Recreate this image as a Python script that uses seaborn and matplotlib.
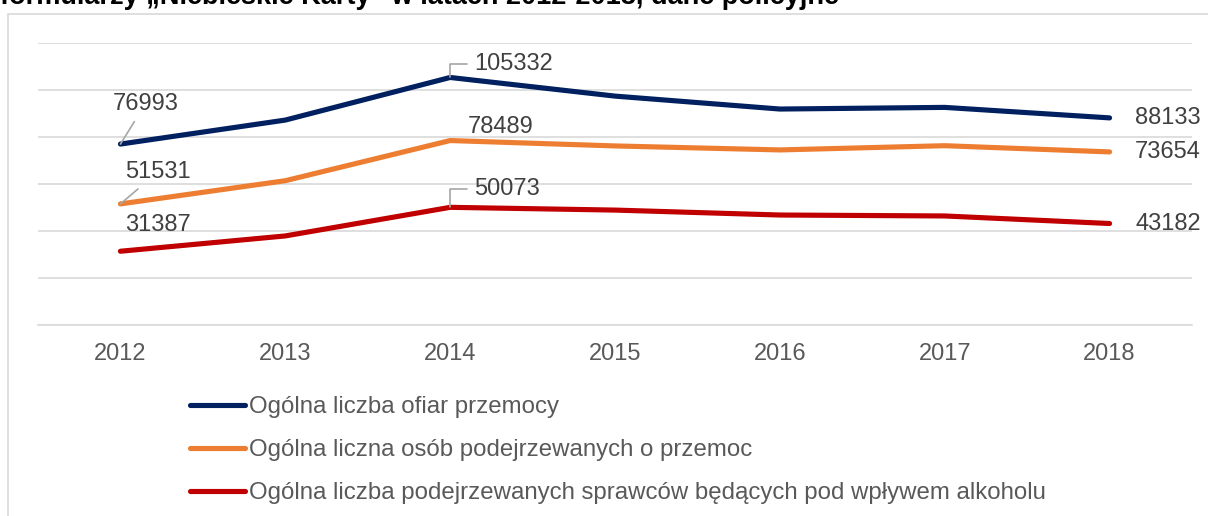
import pandas as pd
import matplotlib
matplotlib.use("Agg")
import matplotlib.pyplot as plt
from matplotlib.lines import Line2D
from matplotlib.patches import Rectangle
import seaborn as sns

# Data
years = [2012, 2013, 2014, 2015, 2016, 2017, 2018]
ofiary = [76993, 87200, 105332, 97400, 91900, 92600, 88133]
podejrzani = [51531, 61400, 78489, 76200, 74500, 76300, 73654]
alkohol = [31387, 37900, 50073, 48900, 46800, 46400, 43182]

series_names = [
    "Ogólna liczba ofiar przemocy",
    "Ogólna liczna osób podejrzewanych o przemoc",
    "Ogólna liczba podejrzewanych sprawców będących pod wpływem alkoholu",
]
colors = ["#002060", "#ED7D31", "#C00000"]

df = pd.DataFrame({
    "year": years * 3,
    "value": ofiary + podejrzani + alkohol,
    "series": [series_names[0]] * 7 + [series_names[1]] * 7 + [series_names[2]] * 7,
})

sns.set_style("white")
plt.rcParams["font.family"] = ["Liberation Sans", "DejaVu Sans"]

fig = plt.figure(figsize=(12.08, 5.16), dpi=100)
ax = fig.add_axes([38 / 1208, 191 / 516, 1154 / 1208, 282 / 516])

sns.lineplot(data=df, x="year", y="value", hue="series", palette=colors,
             linewidth=3.7, legend=False, ax=ax)
for line in ax.lines:
    line.set_solid_capstyle("round")

ax.set_xlim(2011.5, 2018.5)
ax.set_ylim(0, 120000)
ax.set_yticks(range(0, 120001, 20000))
ax.set_yticklabels([])
ax.set_xticks(years)
ax.set_xticklabels([str(y) for y in years])
ax.tick_params(axis="x", length=0, pad=13, labelsize=17, colors="#595959")
ax.tick_params(axis="y", length=0)
ax.grid(axis="y", color="#D9D9D9", linewidth=1.2)
ax.set_axisbelow(True)
for s in ["top", "right", "left"]:
    ax.spines[s].set_visible(False)
ax.spines["bottom"].set_color("#D9D9D9")
ax.spines["bottom"].set_linewidth(1.2)
ax.set_xlabel("")
ax.set_ylabel("")

# data labels (offsets in points)
lab_kw = dict(textcoords="offset points", ha="center", va="center",
              fontsize=17, color="#404040")
leader = dict(arrowstyle="-", color="#A6A6A6", lw=1.2, shrinkA=3, shrinkB=0)
ax.annotate(str(ofiary[0]), (years[0], ofiary[0]), xytext=(18, 29),
            arrowprops=leader, **lab_kw)
ax.annotate(str(ofiary[2]), (years[2], ofiary[2]), xytext=(46, 10),
            arrowprops=dict(leader, connectionstyle="angle,angleA=0,angleB=90,rad=0"),
            **lab_kw)
ax.annotate(str(podejrzani[0]), (years[0], podejrzani[0]), xytext=(27, 23),
            arrowprops=leader, **lab_kw)
ax.annotate(str(podejrzani[2]), (years[2], podejrzani[2]), xytext=(36, 10), **lab_kw)
ax.annotate(str(alkohol[0]), (years[0], alkohol[0]), xytext=(27, 19), **lab_kw)
ax.annotate(str(alkohol[2]), (years[2], alkohol[2]), xytext=(41, 13),
            arrowprops=dict(leader, connectionstyle="angle,angleA=0,angleB=90,rad=0"),
            **lab_kw)
for vals in [ofiary, podejrzani, alkohol]:
    ax.annotate(str(vals[-1]), (years[-1], vals[-1]), xytext=(42, 0), **lab_kw)

# legend below the plot
handles = [Line2D([0], [0], color=c, lw=3.7, solid_capstyle="round") for c in colors]
fig.legend(handles, series_names, loc="upper left",
           bbox_to_anchor=(190 / 1208, 1 - 396 / 516), frameon=False,
           fontsize=17.3, labelcolor="#595959", handlelength=2.3,
           handletextpad=0.17, labelspacing=0.88, borderpad=0, borderaxespad=0)

# chart frame (only top and left edges fall inside the picture)
fig.patches.append(Rectangle((8 / 1208, -0.2), 1.2, 1.2 - 14 / 516,
                             transform=fig.transFigure, fill=False,
                             edgecolor="#D9D9D9", linewidth=1.2))

# title, cut off at the top
fig.text(0 / 1208, 1 - 4 / 516,
         "formularzy „Niebieskie Karty” w latach 2012-2018, dane policyjne",
         ha="left", va="baseline", fontsize=19.5, fontweight="bold", color="#000000")

fig.savefig("out.png", dpi=100)
